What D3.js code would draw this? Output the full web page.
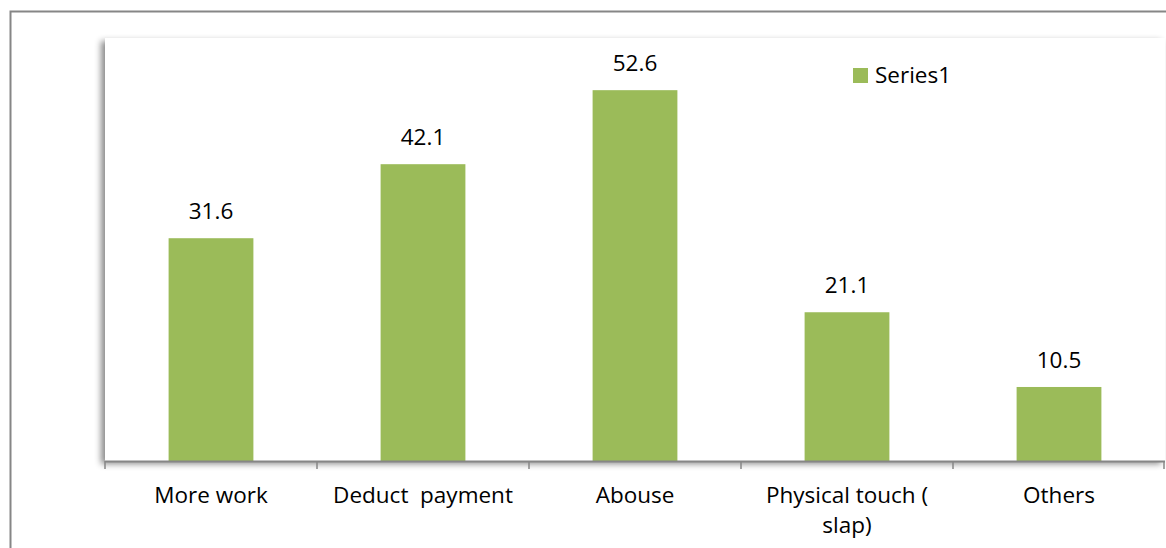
<!DOCTYPE html>
<html>
<head>
<meta charset="utf-8">
<script src="https://cdn.jsdelivr.net/npm/d3@7"></script>
<style>
  html, body { margin: 0; padding: 0; background: #fff; }
  svg { display: block; }
  text { font-family: "Open Sans", "Noto Sans", sans-serif; fill: #000; white-space: pre; }
</style>
</head>
<body>
<svg id="chart" width="1166" height="548"></svg>
<script>
// Chart data
const categories = ["More work", "Deduct  payment", "Abouse", "Physical touch ( slap)", "Others"];
const labelLines = [["More work"], ["Deduct  payment"], ["Abouse"], ["Physical touch (", "slap)"], ["Others"]];
const values = [31.6, 42.1, 52.6, 21.1, 10.5];
const seriesName = "Series1";
const yDomain = [0, 60];

const svg = d3.select("#chart");
const W = 1166, H = 548;
const plot = { left: 105, right: 1165, top: 38, bottom: 461 };
const barColor = "#9bbb59";
const fontSize = 22.5;

// Drop shadow used for the plot area
const defs = svg.append("defs");
const f = defs.append("filter").attr("id", "shade")
  .attr("x", "-5%").attr("y", "-5%").attr("width", "110%").attr("height", "110%");
f.append("feDropShadow").attr("dx", -4).attr("dy", 3).attr("stdDeviation", 3)
  .attr("flood-color", "#000").attr("flood-opacity", 0.45);

// Outer chart frame (runs off the right and bottom edges)
svg.append("rect")
  .attr("x", 10.5).attr("y", 11.5)
  .attr("width", W + 20).attr("height", H + 20)
  .attr("fill", "#fff").attr("stroke", "#868686").attr("stroke-width", 2);

// Plot area
svg.append("rect")
  .attr("x", plot.left).attr("y", plot.top)
  .attr("width", plot.right - plot.left).attr("height", plot.bottom - plot.top)
  .attr("fill", "#fff").attr("filter", "url(#shade)");

const x = d3.scaleBand().domain(categories).range([plot.left, plot.right]).paddingInner(0.6).paddingOuter(0.3);
const xb = d3.scaleBand().domain(categories).range([plot.left, plot.right]);
const y = d3.scaleLinear().domain(yDomain).range([plot.bottom, plot.top]);

// Bars
svg.append("g").selectAll("rect").data(values).join("rect")
  .attr("x", (d, i) => x(categories[i]))
  .attr("y", d => y(d))
  .attr("width", x.bandwidth())
  .attr("height", d => y(0) - y(d))
  .attr("fill", barColor);

// Value labels
svg.append("g").selectAll("text").data(values).join("text")
  .attr("x", (d, i) => x(categories[i]) + x.bandwidth() / 2)
  .attr("y", d => y(d) - 19)
  .attr("text-anchor", "middle")
  .attr("font-size", fontSize)
  .text(d => d.toFixed(1));

// Category axis: line plus tick marks at band boundaries
const axis = svg.append("g");
axis.append("line")
  .attr("x1", plot.left).attr("x2", plot.right)
  .attr("y1", plot.bottom + 0.5).attr("y2", plot.bottom + 0.5)
  .attr("stroke", "#868686").attr("stroke-width", 2);
const bounds = categories.map(c => xb(c)).concat([plot.right]);
axis.selectAll("line.tick").data(bounds).join("line")
  .attr("class", "tick")
  .attr("x1", d => Math.min(d, plot.right - 1)).attr("x2", d => Math.min(d, plot.right - 1))
  .attr("y1", plot.bottom).attr("y2", plot.bottom + 8)
  .attr("stroke", "#868686").attr("stroke-width", 1.5);

// Category labels
const lab = svg.append("g").selectAll("text").data(labelLines).join("text")
  .attr("text-anchor", "middle")
  .attr("font-size", fontSize)
  .attr("transform", (d, i) => `translate(${xb(categories[i]) + xb.bandwidth() / 2},503)`);
lab.selectAll("tspan").data(d => d).join("tspan")
  .attr("x", 0).attr("dy", (d, i) => i === 0 ? 0 : 30)
  .text(d => d);

// Legend
const lg = svg.append("g").attr("transform", "translate(853,68)");
lg.append("rect").attr("width", 15).attr("height", 15).attr("fill", barColor);
lg.append("text").attr("x", 22).attr("y", 15).attr("font-size", fontSize).text(seriesName);
</script>
</body>
</html>
